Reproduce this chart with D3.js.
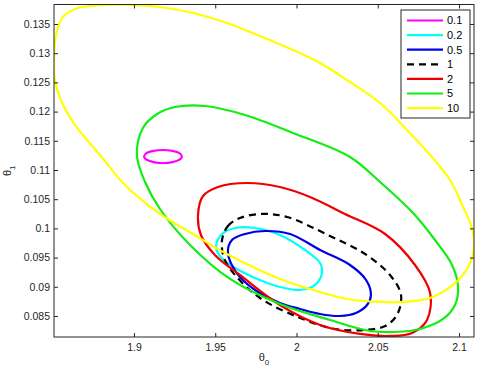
<!DOCTYPE html>
<html><head><meta charset="utf-8">
<script src="https://cdn.jsdelivr.net/npm/d3@7"></script>
<style>
body{margin:0;background:#fff}
svg{display:block}
text{font-family:"Liberation Sans",Arial,Helvetica,sans-serif}
</style>
</head><body>
<svg id="chart" width="479" height="368"></svg>
<script>
// ---- data ----
const levels = ["0.1", "0.2", "0.5", "1", "2", "5", "10"];
const colors = ["#ff00ff", "#00ffff", "#0000e6", "#000000", "#ee0000", "#11ee11", "#ffff00"];
const dashes = [null, null, null, "7,5", null, null, null];

const xTicks = [1.9, 1.95, 2, 2.05, 2.1];
const xTickLabels = ["1.9", "1.95", "2", "2.05", "2.1"];
const yTicks = [0.085, 0.09, 0.095, 0.1, 0.105, 0.11, 0.115, 0.12, 0.125, 0.13, 0.135];
const yTickLabels = ["0.085", "0.09", "0.095", "0.1", "0.105", "0.11", "0.115", "0.12", "0.125", "0.13", "0.135"];
const xLimits = [1.8508, 2.1092];
const yLimits = [0.0814, 0.13834];

// contour points [theta0, theta1]
const contour01 = [[1.9295,0.11231],[1.9280,0.11287],[1.9237,0.11327],[1.9178,0.11342],[1.9120,0.11327],[1.9077,0.11287],[1.9062,0.11231],[1.9077,0.11176],[1.9120,0.11135],[1.9178,0.11120],[1.9237,0.11135],[1.9280,0.11176]];
const contour02 = [[1.9505,0.09699],[1.9542,0.09904],[1.9622,0.10007],[1.9745,0.10007],[1.9898,0.09887],[2.0052,0.09630],[2.0145,0.09408],[2.0157,0.09236],[2.0114,0.09031],[2.0022,0.08945],[1.9898,0.08997],[1.9745,0.09151],[1.9603,0.09356],[1.9523,0.09545]];
const contour05 = [[1.9578,0.09596],[1.9603,0.09801],[1.9683,0.09904],[1.9806,0.09955],[1.9960,0.09904],[2.0145,0.09630],[2.0329,0.09373],[2.0428,0.09116],[2.0458,0.08860],[2.0434,0.08688],[2.0366,0.08551],[2.0268,0.08500],[2.0145,0.08534],[2.0022,0.08620],[1.9898,0.08723],[1.9745,0.08945],[1.9628,0.09253]];
const contour1 = [[1.9542,0.09801],[1.9578,0.10041],[1.9652,0.10178],[1.9788,0.10247],[1.9942,0.10195],[2.0206,0.09870],[2.0422,0.09562],[2.0575,0.09202],[2.0643,0.08860],[2.0618,0.08517],[2.0545,0.08329],[2.0422,0.08260],[2.0237,0.08277],[2.0022,0.08466],[1.9775,0.08808],[1.9622,0.09202],[1.9554,0.09493]];
const contour2 = [[1.9394,0.10229],[1.9425,0.10555],[1.9517,0.10709],[1.9695,0.10777],[1.9898,0.10709],[2.0083,0.10538],[2.0298,0.10247],[2.0545,0.09904],[2.0729,0.09373],[2.0822,0.08894],[2.0803,0.08432],[2.0711,0.08209],[2.0575,0.08158],[2.0391,0.08192],[2.0145,0.08346],[1.9898,0.08688],[1.9652,0.09202],[1.9498,0.09545],[1.9412,0.09887]];
const contour5 = [[1.9018,0.11257],[1.9055,0.11719],[1.9142,0.11959],[1.9252,0.12079],[1.9437,0.12096],[1.9683,0.11942],[1.9978,0.11634],[2.0329,0.11223],[2.0514,0.10795],[2.0717,0.10264],[2.0852,0.09801],[2.0957,0.09373],[2.0994,0.08997],[2.0975,0.08688],[2.0902,0.08449],[2.0760,0.08277],[2.0606,0.08226],[2.0452,0.08243],[2.0206,0.08432],[1.9898,0.08705],[1.9591,0.09134],[1.9345,0.09716],[1.9160,0.10332],[1.9068,0.10795]];
const contour10 = [[1.8508,0.12884],[1.8520,0.13312],[1.8563,0.13620],[1.8655,0.13774],[1.8852,0.13825],[1.9006,0.13825],[1.9160,0.13791],[1.9363,0.13688],[1.9572,0.13517],[1.9775,0.13295],[1.9978,0.13055],[2.0145,0.12832],[2.0329,0.12507],[2.0514,0.12147],[2.0680,0.11685],[2.0822,0.11257],[2.0945,0.10829],[2.1025,0.10366],[2.1074,0.10058],[2.1092,0.09801],[2.1080,0.09493],[2.1037,0.09253],[2.0963,0.09031],[2.0822,0.08808],[2.0655,0.08740],[2.0514,0.08740],[2.0311,0.08791],[2.0102,0.08945],[1.9898,0.09134],[1.9572,0.09562],[1.9363,0.09904],[1.9160,0.10247],[1.8945,0.10743],[1.8791,0.11257],[1.8637,0.11771],[1.8545,0.12233],[1.8508,0.12627]];

const contours = [contour01, contour02, contour05, contour1, contour2, contour5, contour10];

// ---- layout ----
const L = 54, R = 474, T = 4.5, B = 337;
const svg = d3.select("#chart");
const x = d3.scaleLinear().domain(xLimits).range([L, R]);
const y = d3.scaleLinear().domain(yLimits).range([B, T]);

svg.append("defs").append("clipPath").attr("id", "clip")
  .append("rect").attr("x", L).attr("y", T).attr("width", R - L).attr("height", B - T);

const line = d3.line().x(d => x(d[0])).y(d => y(d[1])).curve(d3.curveCatmullRomClosed.alpha(0.5));

const g = svg.append("g").attr("clip-path", "url(#clip)");
contours.forEach((c, i) => {
  g.append("path").attr("d", line(c))
    .attr("fill", "none").attr("stroke", colors[i]).attr("stroke-width", 2.2)
    .attr("stroke-linejoin", "round")
    .attr("stroke-dasharray", dashes[i]);
});

// axes
const axColor = "#262626";
function styleAxis(sel) {
  sel.select(".domain").remove();
  sel.selectAll(".tick line").attr("stroke", axColor);
  sel.selectAll(".tick text").attr("fill", "#262626").style("font-size", "10.5px")
     .style("font-family", '"Liberation Sans",Arial,sans-serif');
}
svg.append("g").attr("transform", `translate(0,${B})`)
  .call(d3.axisBottom(x).tickValues(xTicks).tickFormat((d, i) => xTickLabels[i]).tickSize(-4).tickPadding(7))
  .call(styleAxis);
svg.append("g").attr("transform", `translate(${L},0)`)
  .call(d3.axisLeft(y).tickValues(yTicks).tickFormat((d, i) => yTickLabels[i]).tickSize(-4).tickPadding(4))
  .call(styleAxis);
svg.append("g").attr("transform", `translate(0,${T})`)
  .call(d3.axisTop(x).tickValues(xTicks).tickFormat("").tickSize(-4))
  .call(styleAxis);
svg.append("g").attr("transform", `translate(${R},0)`)
  .call(d3.axisRight(y).tickValues(yTicks).tickFormat("").tickSize(-4))
  .call(styleAxis);

svg.append("rect").attr("x", L).attr("y", T).attr("width", R - L).attr("height", B - T)
  .attr("fill", "none").attr("stroke", axColor).attr("stroke-width", 1);

// axis labels
const xl = svg.append("text").attr("x", (L + R) / 2).attr("y", 361).attr("text-anchor", "middle")
  .style("font-size", "11px").attr("fill", "#262626");
xl.append("tspan").text("θ");
xl.append("tspan").attr("dy", 4).style("font-size", "8px").text("0");

const yl = svg.append("text").attr("transform", `translate(11,${(T + B) / 2}) rotate(-90)`)
  .attr("text-anchor", "middle").style("font-size", "11px").attr("fill", "#262626");
yl.append("tspan").text("θ");
yl.append("tspan").attr("dy", 4).style("font-size", "8px").text("1");

// legend
const lg = svg.append("g");
lg.append("rect").attr("x", 401).attr("y", 10).attr("width", 69).attr("height", 108)
  .attr("fill", "#fff").attr("stroke", axColor).attr("stroke-width", 1);
levels.forEach((lab, i) => {
  const yy = 20.5 + i * 14.6;
  lg.append("line").attr("x1", 407).attr("x2", 443).attr("y1", yy).attr("y2", yy)
    .attr("stroke", colors[i]).attr("stroke-width", 2.2).attr("stroke-dasharray", dashes[i]);
  lg.append("text").attr("x", 447).attr("y", yy).attr("dy", "0.36em")
    .style("font-size", "11px").attr("fill", "#000").text(lab);
});
</script>
</body></html>
